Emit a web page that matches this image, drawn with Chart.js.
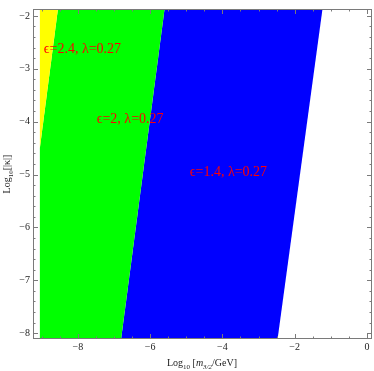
<!DOCTYPE html>
<html>
<head>
<meta charset="utf-8">
<script src="https://cdn.jsdelivr.net/npm/chart.js@4.4.1/dist/chart.umd.min.js"></script>
<style>
body{margin:0;background:#fff}
#wrap{width:374px;height:371px;position:relative}
</style>
</head>
<body>
<div id="wrap"><canvas id="plot"></canvas></div>
<script>
// axis ranges (Log10 m3/2 and Log10 kappa)
const xRange = [-9.24, 0.14];
const yRange = [-8.11, -1.87];

// region corners
const yellowX = [-9.05, -8.55, -9.05];
const yellowY = [-1.87, -1.87, -4.50];
const greenX = [-8.55, -5.60, -6.81, -9.05, -9.05];
const greenY = [-1.87, -1.87, -8.15, -8.15, -4.50];
const blueX = [-5.60, -1.23, -2.48, -6.81];
const blueY = [-1.87, -1.87, -8.15, -8.15];

// annotations
const labelText = ['\u03f5=2.4, \u03bb=0.27', '\u03f5=2, \u03bb=0.27', '\u03f5=1.4, \u03bb=0.27'];
const labelX = [-8.94, -7.475, -4.90];
const labelY = [-2.70, -4.02, -5.03];

const SERIF = '"Liberation Serif", "DejaVu Serif", serif';

function pts(xs, ys){ return xs.map((x,i)=>({x:x, y:ys[i]})); }
function region(xs, ys, color){
  return {data:pts(xs,ys), fill:'shape', backgroundColor:color, borderWidth:0,
          pointRadius:0, tension:0};
}
function fmt(v){ return v<0 ? '\u2212'+Math.abs(v) : String(v); }

// text with subscripts; parts = [text, sub?, italic?]
function drawRich(ctx, parts, x, y, size){
  const font=(p)=>(p[2]?'italic ':'')+(p[1]?size*0.7:size)+'px '+SERIF;
  let w=0;
  parts.forEach(p=>{ctx.font=font(p); w+=ctx.measureText(p[0]).width;});
  let cx=x-w/2;
  ctx.textAlign='left'; ctx.textBaseline='alphabetic';
  parts.forEach(p=>{
    ctx.font=font(p);
    ctx.fillText(p[0], cx, y+(p[1]?2.5:0));
    cx+=ctx.measureText(p[0]).width;
  });
}

const frame = {
  id:'frame',
  afterDatasetsDraw(chart){
    const {ctx, chartArea:a, scales:{x, y}} = chart;
    ctx.save();
    // labels inside plot
    ctx.fillStyle='#ff0000';
    ctx.font='14px '+SERIF;
    ctx.textAlign='left'; ctx.textBaseline='alphabetic';
    labelText.forEach((t,i)=>ctx.fillText(t, x.getPixelForValue(labelX[i]), y.getPixelForValue(labelY[i])));
    // frame
    ctx.strokeStyle='#7a7a7a'; ctx.lineWidth=1;
    ctx.strokeRect(a.left+0.5, a.top+0.5, a.right-a.left-1, a.bottom-a.top-1);
    ctx.beginPath();
    for(let k=-18;k<=0;k++){
      const v=k/2, px=Math.round(x.getPixelForValue(v))+0.5;
      if(px<a.left||px>a.right) continue;
      const len = (v%2===0)?5:2.5;
      ctx.moveTo(px,a.bottom); ctx.lineTo(px,a.bottom-len);
      ctx.moveTo(px,a.top); ctx.lineTo(px,a.top+len);
    }
    for(let k=-45;k<=-10;k++){
      const v=k/5, py=Math.round(y.getPixelForValue(v))+0.5;
      if(py<a.top||py>a.bottom) continue;
      const len = (k%5===0)?5:2.5;
      ctx.moveTo(a.left,py); ctx.lineTo(a.left+len,py);
      ctx.moveTo(a.right,py); ctx.lineTo(a.right-len,py);
    }
    ctx.stroke();
    // axis titles
    ctx.fillStyle='#222';
    drawRich(ctx, [['Log',0,0],['10',1,0],[' [',0,0],['m',0,1],['3/2',1,1],['/GeV]',0,0]], 202, 366, 10);
    ctx.translate(10, 174);
    ctx.rotate(-Math.PI/2);
    drawRich(ctx, [['Log',0,0],['10',1,0],['[|\u03ba|]',0,0]], 0, 0, 10);
    ctx.restore();
  }
};

new Chart(document.getElementById('plot'), {
  type:'line',
  data:{datasets:[
    region(yellowX, yellowY, '#ffff00'),
    region(greenX, greenY, '#00ff00'),
    region(blueX, blueY, '#0000ff')
  ]},
  options:{
    responsive:true, maintainAspectRatio:false, animation:false,
    layout:{padding:{top:0, right:2, left:0, bottom:0}},
    plugins:{legend:{display:false}, tooltip:{enabled:false}},
    scales:{
      x:{type:'linear', min:xRange[0], max:xRange[1],
         grid:{display:false, drawTicks:false}, border:{display:false},
         ticks:{stepSize:2, includeBounds:false, autoSkip:false, maxRotation:0, padding:2,
                color:'#222', font:{family:SERIF, size:10}, callback:fmt},
         afterFit(s){ s.height=32; }},
      y:{type:'linear', min:yRange[0], max:yRange[1],
         grid:{display:false, drawTicks:false}, border:{display:false},
         ticks:{stepSize:1, includeBounds:false, autoSkip:false, padding:3,
                color:'#222', font:{family:SERIF, size:10}, callback:fmt},
         afterFit(s){ s.width=33; }}
    }
  },
  plugins:[frame]
});
</script>
</body>
</html>
